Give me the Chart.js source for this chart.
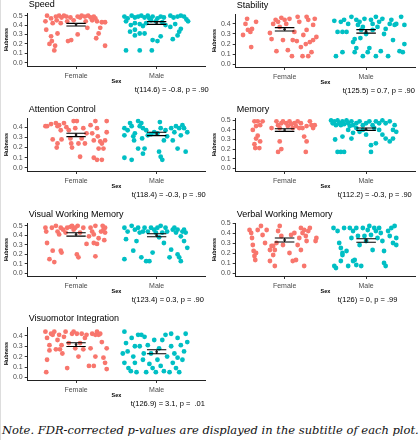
<!DOCTYPE html>
<html>
<head>
<meta charset="utf-8">
<script src="https://cdn.jsdelivr.net/npm/chart.js@4.4.1/dist/chart.umd.min.js"></script>
<style>
  html, body { margin: 0; padding: 0; background: #fff; }
  body { width: 419px; height: 440px; position: relative; overflow: hidden; }
  .panel { position: absolute; width: 210px; height: 104px; }
  .panel.right { width: 212px; }
  #edge { position: absolute; left: 0; top: 0; width: 1px; height: 440px; background: #ddd; }
  #note { position: absolute; left: 2px; top: 424px; font: italic 11.5px "DejaVu Serif", serif; line-height: 13px; color: #111; white-space: nowrap; }
</style>
</head>
<body>
<div id="edge"></div>
<div class="panel" style="left:0px;top:0px"><canvas id="c0"></canvas></div>
<div class="panel right" style="left:208.3px;top:1px"><canvas id="c1"></canvas></div>
<div class="panel" style="left:0px;top:105.3px"><canvas id="c2"></canvas></div>
<div class="panel right" style="left:208.3px;top:105.3px"><canvas id="c3"></canvas></div>
<div class="panel" style="left:0px;top:210px"><canvas id="c4"></canvas></div>
<div class="panel right" style="left:208.3px;top:210px"><canvas id="c5"></canvas></div>
<div class="panel" style="left:0px;top:313.7px"><canvas id="c6"></canvas></div>
<div id="note">Note. FDR-corrected p-values are displayed in the subtitle of each plot.</div>
<script>
// ----- Data -----
const categories = ['Female', 'Male'];
const panelTitles = ['Speed', 'Stability', 'Attention Control', 'Memory',
  'Visual Working Memory', 'Verbal Working Memory', 'Visuomotor Integration'];
const tests = ['t(114.6) = -0.8, p = .90', 't(125.5) = 0.7, p = .90', 't(118.4) = -0.3, p = .90',
  't(112.2) = -0.3, p = .90', 't(123.4) = 0.3, p = .90', 't(126) = 0, p = .99', 't(126.9) = 3.1, p =  .01'];

// mean and interval ends per panel
const femaleLow  = [0.390, 0.329, 0.307, 0.385, 0.392, 0.310, 0.297];
const femaleHigh = [0.418, 0.363, 0.340, 0.413, 0.427, 0.350, 0.334];
const maleLow    = [0.407, 0.309, 0.317, 0.395, 0.385, 0.307, 0.228];
const maleHigh   = [0.436, 0.343, 0.350, 0.420, 0.417, 0.343, 0.266];
const femaleMean = [0.404, 0.346, 0.324, 0.399, 0.410, 0.330, 0.316];
const maleMean   = [0.422, 0.326, 0.334, 0.408, 0.401, 0.325, 0.247];

// axis limits per panel
const yMin = [-0.035, -0.027, -0.03, -0.03, -0.026, -0.03, -0.025];
const yMax = [0.528, 0.498, 0.49, 0.525, 0.53, 0.50, 0.485];

// jittered points: [offset from group centre, hubness]
const speedFemale = [[-0.36,0.50],[-0.38,0.44],[-0.31,0.47],[-0.29,0.42],[-0.25,0.49],[-0.21,0.50],[-0.18,0.48],[-0.15,0.50],[-0.12,0.49],[-0.19,0.42],[-0.07,0.48],[-0.03,0.45],[0.02,0.49],[0.05,0.48],[0.07,0.50],[0.11,0.49],[0.15,0.50],[0.18,0.48],[0.20,0.45],[0.24,0.47],[0.26,0.44],[0.14,0.37],[0.02,0.30],[-0.06,0.24],[-0.10,0.23],[-0.37,0.35],[-0.23,0.31],[-0.31,0.28],[-0.30,0.23],[-0.26,0.18],[-0.27,0.13],[-0.33,0.20],[0.30,0.37],[0.32,0.43],[0.28,0.31],[0.25,0.26],[0.36,0.18],[0.36,0.43],[-0.11,0.44],[0.12,0.44],[-0.24,0.45],[0.22,0.49]];
const speedMale = [[-0.40,0.49],[-0.36,0.47],[-0.31,0.50],[-0.27,0.48],[-0.23,0.49],[-0.19,0.50],[-0.15,0.48],[-0.11,0.50],[-0.05,0.49],[0.01,0.47],[0.05,0.49],[0.17,0.50],[0.21,0.48],[0.26,0.49],[0.30,0.50],[0.34,0.49],[0.37,0.46],[0.39,0.44],[-0.38,0.44],[-0.32,0.40],[-0.27,0.42],[-0.21,0.41],[-0.17,0.39],[-0.13,0.42],[-0.07,0.45],[-0.01,0.44],[0.07,0.43],[0.11,0.40],[0.17,0.38],[0.23,0.41],[0.30,0.36],[0.28,0.33],[0.26,0.29],[0.20,0.25],[0.05,0.28],[0.01,0.23],[-0.05,0.24],[-0.15,0.31],[-0.21,0.31],[-0.27,0.35],[-0.33,0.33],[-0.38,0.13],[-0.21,0.13],[-0.06,0.13],[-0.27,0.29],[0.09,0.48],[-0.09,0.47]];
const stabilityFemale = [[-0.46,0.45],[-0.48,0.40],[-0.51,0.29],[-0.45,0.34],[-0.42,0.32],[-0.40,0.35],[-0.41,0.17],[-0.35,0.42],[-0.18,0.31],[-0.16,0.25],[-0.10,0.13],[-0.14,0.40],[-0.11,0.44],[-0.08,0.42],[-0.04,0.46],[0,0.44],[0.02,0.40],[0.06,0.45],[-0.02,0.24],[0.04,0.14],[0.10,0.24],[0.12,0.32],[0.16,0.47],[0.18,0.42],[0.15,0.23],[0.20,0.17],[0.23,0.29],[0.27,0.34],[0.29,0.44],[0.31,0.22],[0.26,0.20],[0.22,0.08],[0.29,0.08],[0.33,0.12],[0.35,0.39],[0.37,0.45],[0.39,0.27],[0.35,0.24],[0.27,0.47],[0.09,0.08],[-0.06,0.37]];
const stabilityMale = [[-0.39,0.43],[-0.35,0.32],[-0.37,0.08],[-0.29,0.12],[-0.29,0.32],[-0.27,0.44],[-0.24,0.32],[-0.22,0.40],[-0.18,0.47],[-0.16,0.22],[-0.14,0.25],[-0.12,0.44],[-0.10,0.39],[-0.08,0.42],[-0.06,0.34],[-0.04,0.37],[-0.02,0.45],[0,0.30],[0.02,0.12],[0.04,0.16],[0.06,0.44],[0.08,0.40],[0.12,0.47],[0.14,0.37],[0.16,0.42],[0.18,0.13],[0.20,0.45],[0.22,0.30],[0.24,0.35],[0.27,0.08],[0.29,0.40],[0.31,0.44],[0.33,0.24],[0.35,0.39],[0.37,0.40],[0.41,0.13],[0.43,0.47],[0.47,0.20],[0.45,0.12],[0.47,0.39],[-0.12,0.16],[-0.04,0.08],[0.12,0.08],[-0.14,0.12],[-0.31,0.42],[-0.07,0.26],[0.08,0.34]];
const attentionFemale = [[-0.38,0.41],[-0.31,0.43],[-0.25,0.44],[-0.23,0.41],[-0.21,0.42],[-0.19,0.37],[-0.29,0.28],[-0.23,0.24],[-0.24,0.20],[-0.18,0.28],[-0.15,0.44],[-0.12,0.40],[-0.09,0.37],[-0.07,0.29],[-0.06,0.24],[-0.05,0.20],[-0.03,0.46],[-0.01,0.39],[0.01,0.46],[0.03,0.24],[0.05,0.11],[0.07,0.29],[0.09,0.39],[0.11,0.24],[0.18,0.42],[0.20,0.34],[0.22,0.27],[0.24,0.46],[0.26,0.39],[0.27,0.31],[0.28,0.19],[0.30,0.26],[0.22,0.10],[0.26,0.08],[0.32,0.08],[0.34,0.19],[0.36,0.27],[0.38,0.46],[0.38,0.35],[0.32,0.24],[0.13,0.34],[-0.36,0.41]];
const attentionMale = [[-0.40,0.10],[-0.31,0.08],[-0.40,0.32],[-0.36,0.37],[-0.33,0.44],[-0.31,0.41],[-0.28,0.27],[-0.27,0.34],[-0.23,0.46],[-0.21,0.41],[-0.19,0.44],[-0.17,0.39],[-0.23,0.19],[-0.17,0.14],[-0.15,0.19],[-0.18,0.29],[-0.11,0.32],[-0.07,0.33],[-0.03,0.35],[0.01,0.34],[0.04,0.45],[0.05,0.39],[0.03,0.16],[0.07,0.08],[0.09,0.27],[0.11,0.37],[0.13,0.31],[0.18,0.39],[0.22,0.35],[0.24,0.41],[0.26,0.19],[0.28,0.39],[0.30,0.32],[0.32,0.42],[0.34,0.39],[0.36,0.16],[0.38,0.35],[0.20,0.27],[0.05,0.11],[-0.29,0.31],[-0.40,0.39],[-0.13,0.37]];
const memoryFemale = [[-0.39,0.40],[-0.37,0.49],[-0.35,0.44],[-0.33,0.49],[-0.30,0.45],[-0.35,0.31],[-0.33,0.34],[-0.37,0.25],[-0.36,0.21],[-0.31,0.21],[-0.30,0.28],[-0.27,0.49],[-0.16,0.42],[-0.10,0.49],[-0.08,0.45],[-0.06,0.28],[-0.06,0.42],[-0.04,0.47],[-0.02,0.49],[0.02,0.47],[0.04,0.44],[0.06,0.49],[0.08,0.46],[-0.08,0.17],[-0.04,0.20],[0.10,0.42],[0.12,0.47],[0.14,0.44],[0.18,0.42],[0.20,0.47],[0.22,0.42],[0.27,0.44],[0.24,0.33],[0.27,0.28],[0.26,0.17],[0.31,0.49],[0.33,0.45],[0.35,0.42],[0.37,0.45],[0.16,0.49]];
const memoryMale = [[-0.43,0.50],[-0.41,0.47],[-0.39,0.49],[-0.37,0.45],[-0.35,0.50],[-0.33,0.47],[-0.31,0.45],[-0.29,0.49],[-0.27,0.46],[-0.24,0.50],[-0.22,0.47],[-0.20,0.44],[-0.18,0.49],[-0.16,0.45],[-0.12,0.47],[-0.08,0.49],[-0.04,0.45],[0,0.47],[0.04,0.49],[0.08,0.45],[0.12,0.49],[0.16,0.47],[0.20,0.50],[0.24,0.47],[0.29,0.49],[0.33,0.40],[0.35,0.45],[0.37,0.38],[0.33,0.31],[0.29,0.28],[0.24,0.31],[0.20,0.35],[0.12,0.26],[0.06,0.17],[0.06,0.24],[0,0.35],[-0.04,0.40],[-0.08,0.38],[-0.12,0.42],[-0.16,0.37],[-0.22,0.40],[-0.29,0.33],[-0.31,0.17],[-0.35,0.17],[-0.38,0.30],[0.16,0.40],[0.10,0.42],[-0.27,0.17],[-0.18,0.31]];
const visualWmFemale = [[-0.38,0.48],[-0.37,0.44],[-0.36,0.32],[-0.33,0.15],[-0.27,0.12],[-0.29,0.24],[-0.30,0.48],[-0.25,0.50],[-0.23,0.44],[-0.21,0.41],[-0.19,0.48],[-0.19,0.24],[-0.18,0.22],[-0.16,0.46],[-0.13,0.43],[-0.11,0.48],[-0.07,0.49],[-0.05,0.50],[-0.03,0.46],[-0.01,0.48],[0.01,0.20],[0.03,0.17],[0.02,0.50],[0.05,0.43],[0.09,0.48],[0.13,0.31],[0.16,0.39],[0.18,0.48],[0.20,0.44],[0.22,0.32],[0.24,0.18],[0.26,0.31],[0.28,0.37],[0.31,0.44],[0.33,0.50],[0.34,0.46],[0.36,0.43],[0.35,0.35],[0.24,0.50],[0.22,0.41],[0.36,0.48]];
const visualWmMale = [[-0.40,0.15],[-0.38,0.36],[-0.40,0.48],[-0.36,0.44],[-0.31,0.50],[-0.27,0.46],[-0.29,0.24],[-0.23,0.48],[-0.21,0.43],[-0.19,0.17],[-0.17,0.44],[-0.15,0.48],[-0.13,0.13],[-0.09,0.13],[-0.11,0.44],[-0.07,0.48],[-0.05,0.22],[-0.03,0.46],[-0.01,0.43],[0.01,0.48],[0.03,0.38],[0.05,0.50],[0.07,0.43],[0.09,0.32],[0.11,0.48],[0.13,0.44],[0.16,0.17],[0.18,0.25],[0.20,0.46],[0.22,0.48],[0.24,0.43],[0.26,0.20],[0.28,0.17],[0.30,0.13],[0.32,0.44],[0.34,0.34],[0.36,0.43],[0.38,0.27],[0.26,0.46],[0.30,0.39],[0.34,0.46],[-0.25,0.34]];
const verbalWmFemale = [[-0.43,0.43],[-0.41,0.40],[-0.40,0.35],[-0.39,0.28],[-0.38,0.22],[-0.37,0.17],[-0.36,0.13],[-0.35,0.20],[-0.33,0.43],[-0.29,0.47],[-0.27,0.38],[-0.24,0.30],[-0.22,0.43],[-0.18,0.23],[-0.16,0.27],[-0.18,0.12],[-0.14,0.18],[-0.12,0.23],[-0.12,0.07],[-0.10,0.30],[-0.08,0.42],[-0.06,0.47],[-0.04,0.37],[-0.02,0.28],[0.06,0.20],[0.08,0.38],[0.10,0.12],[0.12,0.40],[0.14,0.13],[0.16,0.28],[0.18,0.35],[0.20,0.45],[0.22,0.40],[0.24,0.43],[0.26,0.37],[0.27,0.32],[0.29,0.42],[0.31,0.45],[0.24,0.07],[0.20,0.23],[0.38,0.32],[0.39,0.35],[-0.14,0.27]];
const verbalWmMale = [[-0.39,0.07],[-0.37,0.05],[-0.40,0.45],[-0.35,0.42],[-0.33,0.30],[-0.31,0.25],[-0.29,0.20],[-0.29,0.18],[-0.27,0.45],[-0.24,0.22],[-0.22,0.07],[-0.20,0.45],[-0.18,0.35],[-0.16,0.12],[-0.14,0.13],[-0.12,0.45],[-0.10,0.37],[-0.08,0.28],[-0.06,0.07],[-0.04,0.45],[-0.02,0.37],[0,0.32],[0.02,0.43],[0.04,0.47],[0.06,0.38],[0.08,0.23],[0.10,0.45],[0.12,0.42],[0.14,0.35],[0.16,0.45],[0.18,0.40],[0.20,0.32],[0.22,0.22],[0.22,0.10],[0.24,0.07],[0.27,0.42],[0.29,0.37],[0.31,0.45],[0.33,0.30],[0.35,0.47],[0.37,0.35],[0.37,0.28],[-0.12,0.08],[-0.31,0.12],[-0.16,0.42]];
const visuomotorFemale = [[-0.38,0.44],[-0.36,0.38],[-0.33,0.31],[-0.33,0.26],[-0.36,0.17],[-0.37,0.05],[-0.31,0.42],[-0.29,0.41],[-0.27,0.44],[-0.23,0.36],[-0.21,0.41],[-0.20,0.27],[-0.18,0.31],[-0.17,0.23],[-0.15,0.39],[-0.13,0.44],[-0.11,0.09],[-0.09,0.33],[-0.05,0.42],[-0.03,0.44],[-0.01,0.28],[0.01,0.42],[0.03,0.20],[0.05,0.33],[0.07,0.42],[0.09,0.27],[0.11,0.38],[0.13,0.41],[0.16,0.11],[0.18,0.28],[0.20,0.42],[0.22,0.11],[0.24,0.41],[0.26,0.44],[0.28,0.41],[0.30,0.42],[0.32,0.34],[0.34,0.19],[0.36,0.14],[0.38,0.08],[0.38,0.28],[0.24,0.20],[-0.25,0.27]];
const visuomotorMale = [[-0.40,0.44],[-0.42,0.23],[-0.40,0.14],[-0.38,0.33],[-0.36,0.25],[-0.35,0.09],[-0.32,0.06],[-0.31,0.38],[-0.29,0.20],[-0.27,0.14],[-0.25,0.05],[-0.23,0.41],[-0.21,0.30],[-0.19,0.41],[-0.17,0.17],[-0.16,0.23],[-0.15,0.39],[-0.13,0.05],[-0.11,0.31],[-0.09,0.13],[-0.07,0.23],[-0.05,0.09],[-0.03,0.36],[-0.01,0.05],[0.01,0.17],[0.03,0.28],[0.05,0.11],[0.07,0.36],[0.09,0.06],[0.11,0.41],[0.13,0.20],[0.16,0.05],[0.18,0.30],[0.20,0.14],[0.22,0.23],[0.24,0.09],[0.26,0.38],[0.28,0.05],[0.30,0.31],[0.32,0.17],[0.34,0.25],[0.36,0.42],[0.38,0.34],[0.18,0.42],[0.26,0.19],[-0.27,0.30]];

const femalePoints = [speedFemale, stabilityFemale, attentionFemale, memoryFemale, visualWmFemale, verbalWmFemale, visuomotorFemale];
const malePoints = [speedMale, stabilityMale, attentionMale, memoryMale, visualWmMale, verbalWmMale, visuomotorMale];

// caption x offset from the plot's left edge
const captionX = [107, 107, 104, 102, 104, 102, 103];

// ----- Plugins -----
const errorBars = {
  id: 'errorBars',
  afterDatasetsDraw(chart, args, opts) {
    const { ctx, scales: { x, y } } = chart;
    ctx.save();
    ctx.strokeStyle = '#000';
    ctx.lineWidth = 1.1;
    opts.bars.forEach(b => {
      const xc = x.getPixelForValue(b.x);
      const x0 = x.getPixelForValue(b.x - 0.12);
      const x1 = x.getPixelForValue(b.x + 0.12);
      const yl = y.getPixelForValue(b.low);
      const yh = y.getPixelForValue(b.high);
      ctx.beginPath();
      ctx.moveTo(x0, yh); ctx.lineTo(x1, yh);
      ctx.moveTo(x0, yl); ctx.lineTo(x1, yl);
      ctx.moveTo(xc, yh); ctx.lineTo(xc, yl);
      ctx.stroke();
      ctx.fillStyle = '#222';
      ctx.beginPath();
      ctx.arc(xc, y.getPixelForValue(b.mean), 1.3, 0, Math.PI * 2);
      ctx.fill();
    });
    ctx.restore();
  }
};

const panelText = {
  id: 'panelText',
  afterDraw(chart, args, opts) {
    const { ctx, chartArea: a } = chart;
    ctx.save();
    ctx.fillStyle = '#000';
    ctx.textBaseline = 'middle';
    ctx.textAlign = 'left';
    ctx.font = '9px "Liberation Sans", Arial, sans-serif';
    ctx.fillText(opts.title, a.left + 1, a.top - 8);
    ctx.font = '7.5px "Liberation Sans", Arial, sans-serif';
    ctx.fillText(opts.caption, a.left + opts.captionX, a.bottom + 24);
    ctx.restore();
  }
};

// ----- Charts -----
const tickFont = { family: '"Liberation Sans", Arial, sans-serif', size: 7 };
const boldFont = { family: '"Liberation Sans", Arial, sans-serif', size: 5.5, weight: 'bold' };

panelTitles.forEach((title, i) => {
  const toXY = (pts, centre) => pts.map(([o, v]) => ({ x: centre + o, y: v }));
  new Chart(document.getElementById('c' + i), {
    type: 'scatter',
    data: {
      datasets: [
        { data: toXY(femalePoints[i], 1), backgroundColor: '#F8766D', borderWidth: 0, pointRadius: 2.4 },
        { data: toXY(malePoints[i], 2), backgroundColor: '#00BFC4', borderWidth: 0, pointRadius: 2.4 }
      ]
    },
    options: {
      responsive: true,
      maintainAspectRatio: false,
      animation: false,
      events: [],
      layout: { padding: { left: 3, right: 5, top: 13, bottom: 19.4 } },
      plugins: {
        legend: { display: false },
        tooltip: { enabled: false },
        errorBars: {
          bars: [
            { x: 1, low: femaleLow[i], high: femaleHigh[i], mean: femaleMean[i] },
            { x: 2, low: maleLow[i], high: maleHigh[i], mean: maleMean[i] }
          ]
        },
        panelText: { title, caption: tests[i], captionX: captionX[i] }
      },
      scales: {
        x: {
          type: 'linear',
          min: 0.4,
          max: 2.6,
          afterBuildTicks: s => { s.ticks = [{ value: 1 }, { value: 2 }]; },
          afterFit: s => { s.height = 18.6; },
          ticks: { autoSkip: false, maxRotation: 0, font: tickFont, color: '#4d4d4d', padding: 3, callback: v => categories[Math.round(v) - 1] },
          grid: { drawOnChartArea: false, tickLength: 3, color: '#333' },
          border: { color: '#222', width: 1 },
          title: { display: true, text: 'Sex', font: boldFont, color: '#000', padding: { top: 0, bottom: 0 } }
        },
        y: {
          min: yMin[i],
          max: yMax[i],
          afterFit: s => { s.width = 24.7; },
          ticks: { autoSkip: false, stepSize: 0.1, includeBounds: false, font: tickFont, color: '#4d4d4d', padding: 2, callback: v => v.toFixed(1) },
          grid: { drawOnChartArea: false, tickLength: 3, color: '#333' },
          border: { color: '#222', width: 1 },
          title: { display: true, text: 'Hubness', font: boldFont, color: '#000', padding: { top: 0, bottom: 0 } }
        }
      }
    },
    plugins: [errorBars, panelText]
  });
});
</script>
</body>
</html>
